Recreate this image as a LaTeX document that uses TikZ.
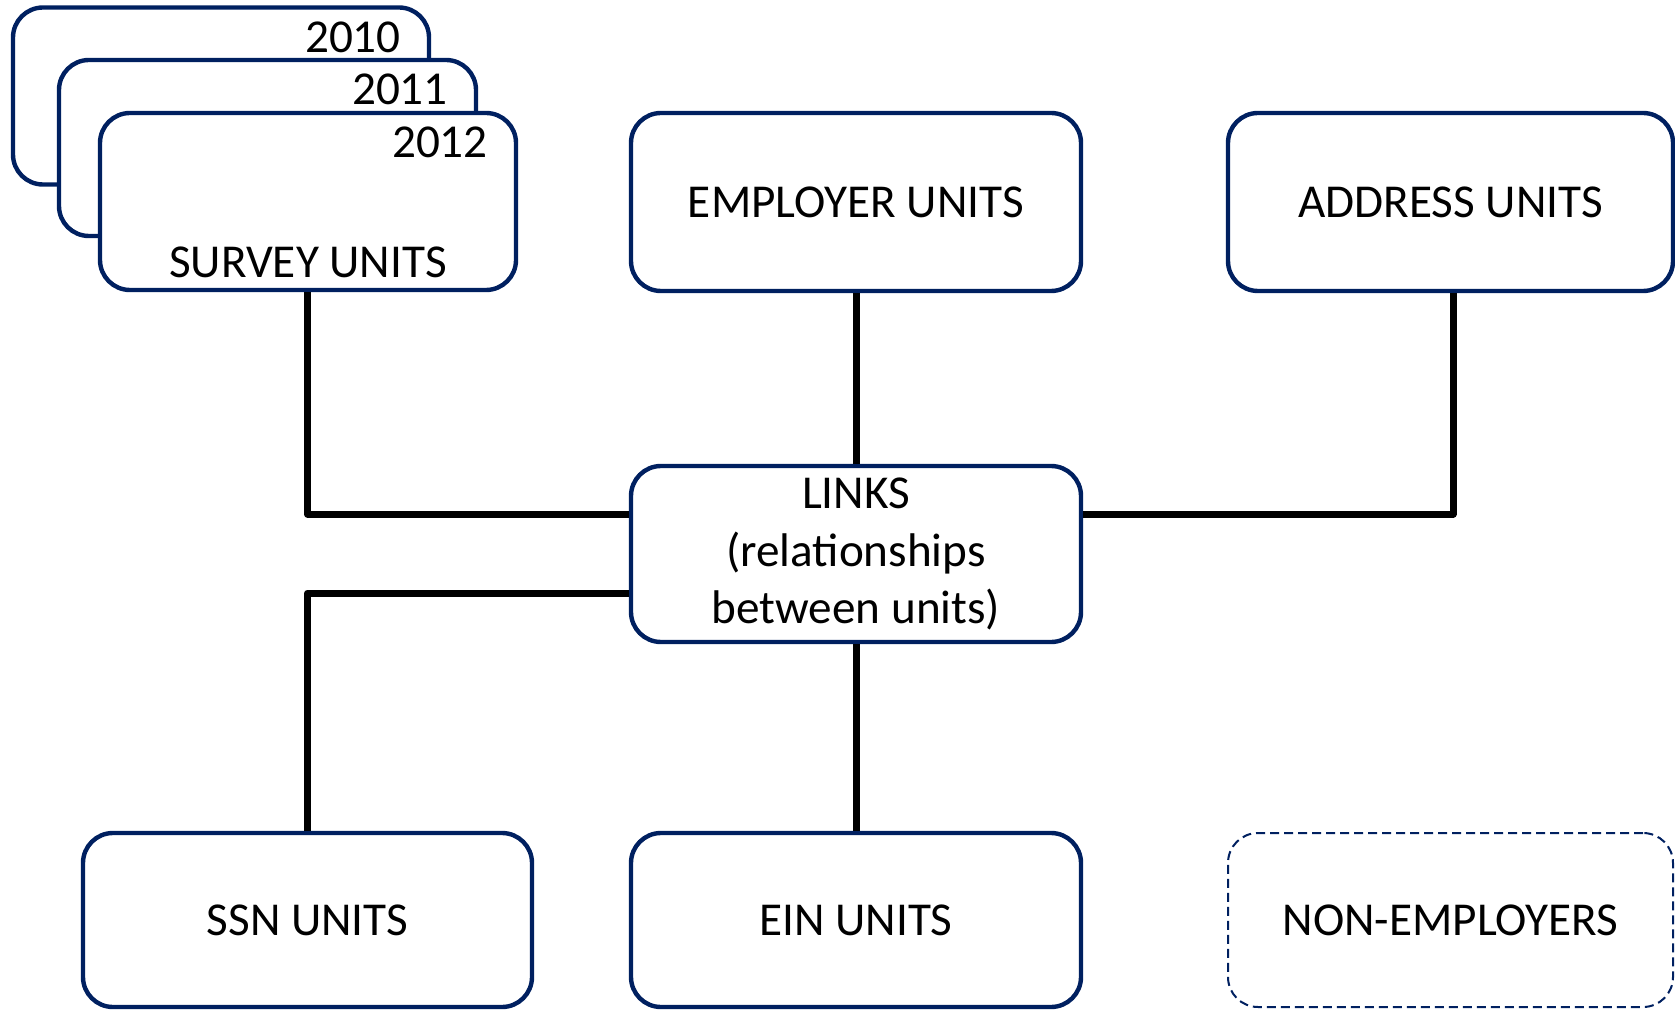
\documentclass[tikz,border=0pt]{standalone}
\usepackage{fontspec}
\setmainfont{Carlito}
\definecolor{navy}{HTML}{002060}
\begin{document}
\begin{tikzpicture}[x=0.5pt,y=-0.5pt,
  unitbox/.style={draw=navy, line width=2.2pt, fill=white, rounded corners=15pt,
    inner sep=0pt, align=center, font=\fontsize{23.6}{28.8}\selectfont},
  dashbox/.style={unitbox, line width=1pt, dash pattern=on 4.5pt off 2.5pt},
  conn/.style={draw=black, line width=3.5pt, line join=round},
  yearlbl/.style={anchor=base east, inner sep=0pt, font=\fontsize{23.6}{28.8}\selectfont}]
\useasboundingbox (0,0) rectangle (1675,1010);
% stacked survey boxes
\node[unitbox, minimum width=208pt, minimum height=88.5pt] (s2010) at (221,96) {};
\node[yearlbl] (y2010) at ([xshift=-15pt,yshift=-23.5pt]s2010.north east) {2010};
\node[unitbox, minimum width=208.5pt, minimum height=88pt] (s2011) at (267.5,148) {};
\node[yearlbl] (y2011) at ([xshift=-15pt,yshift=-23.5pt]s2011.north east) {2011};
\node[unitbox, minimum width=208pt, minimum height=88.5pt] (s2012) at (308,201.5) {};
\node[yearlbl] (y2012) at ([xshift=-15pt,yshift=-23.5pt]s2012.north east) {2012};
\node[yearlbl, anchor=base] (survey) at ([yshift=7.5pt]s2012.south) {SURVEY UNITS};
% other boxes
\node[unitbox, minimum width=225pt, minimum height=89pt] (emp) at (856,202) {EMPLOYER UNITS};
\node[unitbox, minimum width=222.5pt, minimum height=89pt] (addr) at (1450.5,202) {ADDRESS UNITS};
\node[unitbox, minimum width=225pt, minimum height=88pt] (links) at (856,554) {LINKS\\(relationships\\between units)};
\node[unitbox, minimum width=224.5pt, minimum height=87pt] (ssn) at (307.5,920) {SSN UNITS};
\node[unitbox, minimum width=225pt, minimum height=87pt] (ein) at (856,920) {EIN UNITS};
\node[dashbox, minimum width=222.5pt, minimum height=87pt] (nonemp) at (1450.5,920) {NON-EMPLOYERS};
% connectors
\draw[conn] (s2012.south -| ssn.north) |- ([yshift=20pt]links.west);
\draw[conn] (ssn.north) |- ([yshift=-19.5pt]links.west);
\draw[conn] (emp.south) -- (links.north);
\draw[conn] (links.south) -- (ein.north);
\draw[conn] ([xshift=1.25pt]addr.south) |- ([yshift=20pt]links.east);
\end{tikzpicture}
\end{document}
